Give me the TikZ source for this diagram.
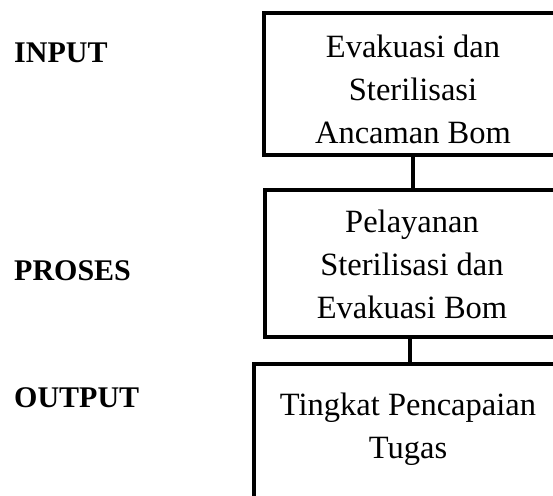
\documentclass[tikz,border=0pt]{standalone}
\usepackage{fontspec}
\setmainfont{Liberation Serif}
\begin{document}
\begin{tikzpicture}[x=1pt,y=-1pt,
  box/.style={draw, line width=4pt, rectangle, inner sep=0pt},
  boxtext/.style={align=center, inner sep=0pt, font=\fontsize{32.5}{43}\selectfont},
  lab/.style={anchor=base west, inner sep=0pt, font=\fontsize{30}{43}\selectfont\bfseries},
  conn/.style={line width=4pt}]
\useasboundingbox (0,0) rectangle (553,495);
\clip (0,0) rectangle (553,495);
\node[box, minimum width=298pt, minimum height=142pt] (b1) at (413,84) {};
\node[box, minimum width=295pt, minimum height=147pt] (b2) at (412.5,263.5) {};
\node[box, minimum width=312pt, minimum height=156pt] (b3) at (410,442) {};
\node[boxtext] (t1) at (413,89) {Evakuasi dan\\Sterilisasi\\Ancaman Bom};
\node[boxtext] (t2) at (412,264) {Pelayanan\\Sterilisasi dan\\Evakuasi Bom};
\node[boxtext] (t3) at (408,429) {Tingkat Pencapaian\\Tugas};
\node[lab] (l1) at (14,63) {INPUT};
\node[lab] (l2) at (14,280) {PROSES};
\node[lab] (l3) at (14,407) {OUTPUT};
\draw[conn] (b1.south) -- (b1.south |- b2.north);
\draw[conn] (b3.north |- b2.south) -- (b3.north);
\end{tikzpicture}
\end{document}
